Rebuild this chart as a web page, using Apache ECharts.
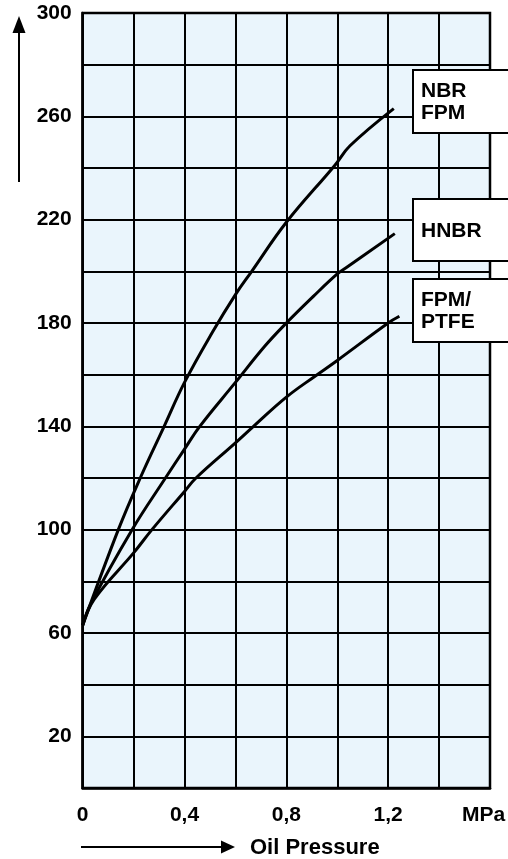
<!DOCTYPE html>
<html><head><meta charset="utf-8">
<script src="https://cdn.jsdelivr.net/npm/echarts@6/dist/echarts.min.js"></script>
<style>html,body{margin:0;padding:0;background:#fff}#c{width:508px;height:859px}</style>
</head><body><div id="c"></div>
<script>
// ---- data ----
const xTickValues = [0, 0.4, 0.8, 1.2, 1.6];
const xTickLabels = ['0', '0,4', '0,8', '1,2', 'MPa'];
const yTickLabels = [20, 60, 100, 140, 180, 220, 260, 300];

const nbrPressure = [0, 0.14, 0.226, 0.32, 0.4, 0.51, 0.6, 0.664, 0.8, 0.99, 1.05, 1.222];
const nbrTemp     = [63, 100, 120, 140, 157, 176.5, 191, 200, 219, 241, 248.6, 263];

const hnbrPressure = [0, 0.03, 0.194, 0.325, 0.4, 0.46, 0.6, 0.715, 0.8, 0.908, 1.0, 1.036, 1.226];
const hnbrTemp     = [63, 71, 100, 120, 131.2, 140, 157, 171, 180, 190.5, 199, 201.5, 214.6];

const ptfePressure = [0, 0.045, 0.2, 0.272, 0.4, 0.445, 0.6, 0.671, 0.8, 0.914, 1.0, 1.2, 1.244];
const ptfeTemp     = [63, 73, 91, 100, 114.8, 120, 133.6, 140, 151.3, 159.5, 165.5, 180, 182.6];

const seriesNames = ['NBR\nFPM', 'HNBR', 'FPM/\nPTFE'];
const xAxisTitle = 'Oil Pressure';

// ---- chart ----
const FONT = '"Liberation Sans", Arial, Helvetica, sans-serif';
const zip = (a, b) => a.map((v, i) => [v, b[i]]);
const chart = echarts.init(document.getElementById('c'), null, {renderer: 'canvas'});

const lineSeries = (name, xs, ys) => ({
  name: name.replace('\n', ' '), type: 'line', data: zip(xs, ys),
  showSymbol: false, smooth: 0.4, clip: false, z: 5,
  lineStyle: {color: '#000', width: 3}
});

function legendBox(text, top, height) {
  return [
    {type: 'rect', z: 100, zlevel: 1, shape: {x: 413, y: top, width: 120, height: height},
     style: {fill: '#fff', stroke: '#000', lineWidth: 2}},
    {type: 'text', z: 101, zlevel: 1, x: 421, y: top + height / 2 + 1,
     style: {text: text, fill: '#000', font: 'bold 21px ' + FONT,
             lineHeight: 22, verticalAlign: 'middle', align: 'left'}}
  ];
}

chart.setOption({
  animation: false,
  backgroundColor: '#fff',
  grid: {
    left: 82.7, right: 18, top: 13, bottom: 71,
    show: true, backgroundColor: '#eaf5fc', borderColor: '#000', borderWidth: 2.5,
    containLabel: false, outerBoundsMode: 'none'
  },
  xAxis: {
    type: 'value', min: 0, max: 1.6, interval: 0.2,
    axisLine: {show: true, lineStyle: {color: '#000', width: 2.5}},
    axisTick: {show: false},
    splitLine: {show: true, lineStyle: {color: '#000', width: 2}},
    axisLabel: {
      show: true, margin: 17, color: '#000', fontSize: 21, fontWeight: 'bold', fontFamily: FONT,
      showMinLabel: true, showMaxLabel: true, hideOverlap: false,
      formatter: function (v) {
        const i = xTickValues.findIndex(t => Math.abs(t - v) < 1e-6);
        if (i < 0) return '';
        return i === xTickValues.length - 1 ? '{u|' + xTickLabels[i] + '}' : xTickLabels[i];
      },
      rich: {u: {fontSize: 21, fontWeight: 'bold', fontFamily: FONT, color: '#000', padding: [0, 13, 0, 0]}}
    }
  },
  yAxis: {
    type: 'value', min: 0, max: 300, interval: 20,
    axisLine: {show: true, lineStyle: {color: '#000', width: 2.5}},
    axisTick: {show: false},
    splitLine: {show: true, lineStyle: {color: '#000', width: 2}},
    axisLabel: {
      show: true, margin: 11, color: '#000', fontSize: 21, fontWeight: 'bold', fontFamily: FONT,
      showMinLabel: true, showMaxLabel: true, hideOverlap: false,
      formatter: v => (yTickLabels.indexOf(Math.round(v)) >= 0 ? String(Math.round(v)) : '')
    }
  },
  series: [
    lineSeries(seriesNames[0], nbrPressure, nbrTemp),
    lineSeries(seriesNames[1], hnbrPressure, hnbrTemp),
    lineSeries(seriesNames[2], ptfePressure, ptfeTemp)
  ],
  graphic: [].concat(
    legendBox(seriesNames[0], 70, 63),
    legendBox(seriesNames[1], 199, 62),
    legendBox(seriesNames[2], 279, 63),
    [
      // y arrow
      {type: 'line', z: 100, shape: {x1: 19, y1: 182, x2: 19, y2: 30}, style: {stroke: '#000', lineWidth: 2}},
      {type: 'polygon', z: 100, shape: {points: [[19, 16], [12.5, 33], [25.5, 33]]}, style: {fill: '#000'}},
      // x arrow
      {type: 'line', z: 100, shape: {x1: 81, y1: 847, x2: 225, y2: 847}, style: {stroke: '#000', lineWidth: 2}},
      {type: 'polygon', z: 100, shape: {points: [[235, 847], [221, 840.5], [221, 853.5]]}, style: {fill: '#000'}},
      {type: 'text', z: 100, x: 250, y: 848,
       style: {text: xAxisTitle, fill: '#000', font: 'bold 22px ' + FONT, verticalAlign: 'middle', align: 'left'}}
    ]
  )
});
</script>
</body></html>
